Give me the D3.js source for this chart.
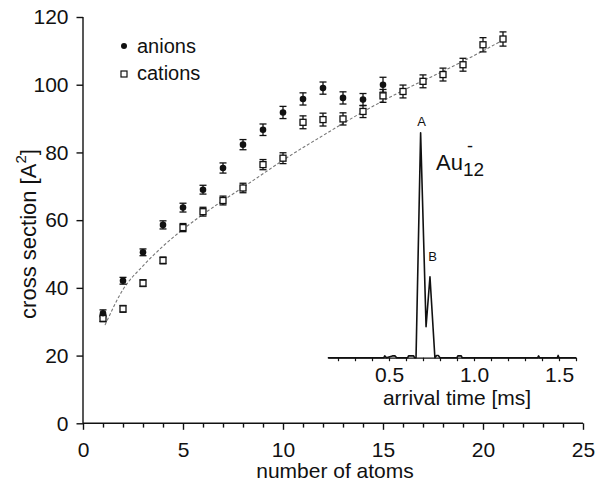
<!DOCTYPE html>
<html>
<head>
<meta charset="utf-8">
<script src="https://cdn.jsdelivr.net/npm/d3@7"></script>
<style>
  body { margin: 0; background: #fff; }
  svg text { font-family: "Liberation Sans", Arial, sans-serif; fill: #111; }
</style>
</head>
<body>
<svg id="chart" width="595" height="483"></svg>
<script>
// cross sections
var anionAtoms = [1, 2, 3, 4, 5, 6, 7, 8, 9, 10, 11, 12, 13, 14, 15];
var anionCS = [32.5, 42.1, 50.5, 58.6, 63.7, 69.0, 75.4, 82.3, 86.7, 91.8, 95.8, 99.0, 96.1, 95.6, 100.0];
var anionErr = [1, 1, 1, 1.2, 1.3, 1.3, 1.5, 1.5, 1.7, 1.8, 1.8, 1.8, 1.8, 1.8, 2.2];

var cationAtoms = [1, 2, 3, 4, 5, 6, 7, 8, 9, 10, 11, 12, 13, 14, 15, 16, 17, 18, 19, 20, 21];
var cationCS = [31.0, 33.8, 41.4, 48.1, 57.8, 62.5, 65.8, 69.5, 76.4, 78.3, 88.9, 89.7, 89.9, 92.1, 96.7, 98.0, 101.0, 103.0, 105.9, 111.8, 113.5];
var cationErr = [1, 1, 1, 1, 1.2, 1.3, 1.3, 1.4, 1.5, 1.6, 1.9, 1.9, 1.8, 1.8, 1.9, 1.9, 1.9, 1.9, 1.9, 2.1, 2.1];

// dashed fit curve
var fitAtoms = [1.1, 2, 3, 4, 5, 6, 7, 8, 9, 10, 12, 14, 16, 18, 20, 21];
var fitCS = [29, 39.5, 46.5, 52.3, 57.3, 61.7, 65.8, 69.7, 73.7, 77.7, 85, 92, 98.3, 104, 110, 113.2];

// inset: arrival time distribution of Au12-
var atdTime = [0.14, 0.47, 0.475, 0.485, 0.52, 0.535, 0.545, 0.61, 0.615, 0.645, 0.65, 0.659, 0.686, 0.718, 0.741, 0.77, 0.78, 0.79, 0.80, 0.90, 0.905, 0.925, 0.93, 1.375, 1.38, 1.385, 1.49, 1.495, 1.50, 1.60];
var atdSignal = [0, 0, 0.008, 0, 0.008, 0.008, 0, 0, 0.008, 0.008, 0, 0, 1, 0.138, 0.36, 0, 0.01, 0.01, 0, 0, 0.008, 0.008, 0, 0, 0.008, 0, 0, 0.01, 0, 0];

var xTicks = [0, 5, 10, 15, 20, 25];
var yTicks = [0, 20, 40, 60, 80, 100, 120];
var insetTicks = [0.2, 0.3, 0.4, 0.5, 0.6, 0.7, 0.8, 0.9, 1.0, 1.1, 1.2, 1.3, 1.4, 1.5, 1.6];
var insetLabels = [0.5, 1.0, 1.5];

var svg = d3.select("#chart");
var ink = "#111";

var x = d3.scaleLinear().domain([0, 25]).range([83, 583]);
var y = d3.scaleLinear().domain([0, 120]).range([423.3, 17]);

// x axis, major ticks then minor ticks
var xAxis = d3.axisBottom(x)
    .tickValues(xTicks)
    .tickSize(6.5)
    .tickPadding(12)
    .tickFormat(d3.format("d"));
var gx = svg.append("g")
    .attr("transform", "translate(0," + y(0) + ")")
    .call(xAxis);
var minor = d3.axisBottom(x)
    .tickValues(d3.range(0, 26).filter(function (d) { return d % 5 != 0; }))
    .tickSize(4.3)
    .tickFormat("");
var gxm = svg.append("g")
    .attr("transform", "translate(0," + y(0) + ")")
    .call(minor);
gxm.select(".domain").remove();

var yAxis = d3.axisLeft(y)
    .tickValues(yTicks)
    .tickSize(6.5)
    .tickPadding(8);
var gy = svg.append("g")
    .attr("transform", "translate(" + x(0) + ",0)")
    .call(yAxis);

[gx, gxm, gy].forEach(function (g) {
    g.selectAll("path, line").attr("stroke", ink).attr("stroke-width", 1.4);
    g.selectAll("text").style("font-size", "21px").attr("fill", ink);
});
gx.select(".domain").attr("d", "M" + x(0) + ",0H" + x(25));
gy.select(".domain").attr("d", "M0," + y(0) + "V" + y(120));

svg.append("text")
    .attr("x", x(12.6))
    .attr("y", 478)
    .attr("text-anchor", "middle")
    .style("font-size", "21px")
    .text("number of atoms");

var ylab = svg.append("text")
    .attr("transform", "translate(36," + 234 + ") rotate(-90)")
    .attr("text-anchor", "middle")
    .style("font-size", "22px");
ylab.append("tspan").text("cross section [A");
ylab.append("tspan").attr("dy", -10).style("font-size", "15px").text("2");
ylab.append("tspan").attr("dy", 10).text("]");

// fit curve
var fit = fitAtoms.map(function (d, i) { return [d, fitCS[i]]; });
svg.append("path")
    .datum(fit)
    .attr("fill", "none")
    .attr("stroke", "#777")
    .attr("stroke-width", 1.1)
    .attr("stroke-dasharray", "3,2")
    .attr("d", d3.line()
        .curve(d3.curveMonotoneX)
        .x(function (d) { return x(d[0]); })
        .y(function (d) { return y(d[1]); }));

// error bars
function errorBars(ns, vals, errs) {
    var g = svg.append("g").attr("stroke", ink).attr("stroke-width", 1.3);
    ns.forEach(function (n, i) {
        var cx = x(n), top = y(vals[i] + errs[i]), bot = y(vals[i] - errs[i]);
        g.append("line").attr("x1", cx).attr("x2", cx).attr("y1", top).attr("y2", bot);
        g.append("line").attr("x1", cx - 3.5).attr("x2", cx + 3.5).attr("y1", top).attr("y2", top);
        g.append("line").attr("x1", cx - 3.5).attr("x2", cx + 3.5).attr("y1", bot).attr("y2", bot);
    });
}
errorBars(cationAtoms, cationCS, cationErr);
errorBars(anionAtoms, anionCS, anionErr);

svg.append("g").selectAll("rect")
    .data(cationAtoms)
    .enter().append("rect")
    .attr("x", function (d) { return x(d) - 3; })
    .attr("y", function (d, i) { return y(cationCS[i]) - 3; })
    .attr("width", 6)
    .attr("height", 6)
    .attr("fill", "#fff")
    .attr("stroke", ink)
    .attr("stroke-width", 1.3);

svg.append("g").selectAll("circle")
    .data(anionAtoms)
    .enter().append("circle")
    .attr("cx", function (d) { return x(d); })
    .attr("cy", function (d, i) { return y(anionCS[i]); })
    .attr("r", 3.3)
    .attr("fill", ink);

// legend
svg.append("circle").attr("cx", 124).attr("cy", 46).attr("r", 3).attr("fill", ink);
svg.append("text").attr("x", 137).attr("y", 53).style("font-size", "20px").text("anions");
svg.append("rect").attr("x", 121).attr("y", 71).attr("width", 6).attr("height", 6)
    .attr("fill", "#fff").attr("stroke", ink).attr("stroke-width", 1.2);
svg.append("text").attr("x", 137).attr("y", 80).style("font-size", "20px").text("cations");

// inset
var ix = d3.scaleLinear().domain([0.14, 1.6]).range([327.8, 576]);
var iy = d3.scaleLinear().domain([0, 1]).range([357.7, 132.7]);

var iAxis = d3.axisBottom(ix)
    .tickValues(insetTicks)
    .tickSize(3.5)
    .tickSizeOuter(0)
    .tickPadding(6)
    .tickFormat(function (d) {
        return insetLabels.some(function (v) { return Math.abs(v - d) < 1e-6; }) ? d3.format(".1f")(d) : "";
    });
var gi = svg.append("g")
    .attr("transform", "translate(0," + iy(0) + ")")
    .call(iAxis);
gi.selectAll("path, line").attr("stroke", ink).attr("stroke-width", 1.2);
gi.selectAll("text").style("font-size", "21px").attr("fill", ink);

svg.append("text")
    .attr("x", 457)
    .attr("y", 405)
    .attr("text-anchor", "middle")
    .style("font-size", "21px")
    .text("arrival time [ms]");

var atd = atdTime.map(function (d, i) { return [d, atdSignal[i]]; });
svg.append("path")
    .datum(atd)
    .attr("fill", "none")
    .attr("stroke", ink)
    .attr("stroke-width", 1.6)
    .attr("stroke-linejoin", "round")
    .attr("d", d3.line()
        .x(function (d) { return ix(d[0]); })
        .y(function (d) { return iy(d[1]); }));

svg.append("text").attr("x", ix(0.686) + 1).attr("y", 126)
    .attr("text-anchor", "middle").style("font-size", "13px").text("A");
svg.append("text").attr("x", ix(0.741) + 2.5).attr("y", 261)
    .attr("text-anchor", "middle").style("font-size", "13px").text("B");

var au = svg.append("text").attr("x", 436).attr("y", 170).style("font-size", "22px");
au.append("tspan").text("Au");
au.append("tspan").attr("dy", 6).style("font-size", "19px").text("12");
svg.append("text").attr("x", 467).attr("y", 152).style("font-size", "18px").text("-");
</script>
</body>
</html>
